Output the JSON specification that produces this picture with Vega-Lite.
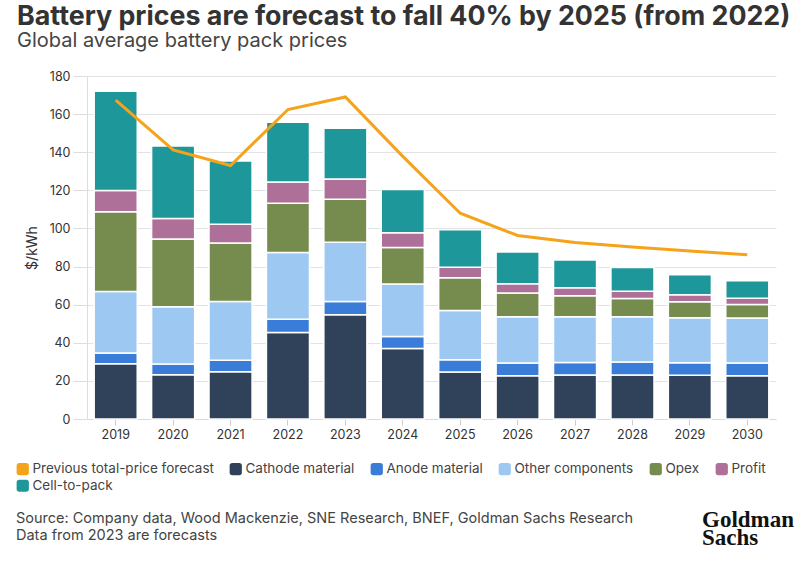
{
  "$schema": "https://vega.github.io/schema/vega-lite/v6.json",
  "background": "white",
  "padding": {"left": 16, "top": 4, "right": 2, "bottom": 2},
  "spacing": 67,
  "config": {"view": {"stroke": null}, "font": "Inter"},
  "title": {
    "text": "Battery prices are forecast to fall 40% by 2025 (from 2022)",
    "subtitle": "Global average battery pack prices",
    "anchor": "start",
    "frame": "bounds",
    "dx": 1,
    "font": "Inter",
    "fontSize": 26.8,
    "fontWeight": "bold",
    "color": "#333333",
    "subtitleFont": "Inter",
    "subtitleFontSize": 20,
    "subtitleFontWeight": "normal",
    "subtitleColor": "#444444",
    "subtitlePadding": 0,
    "offset": 19
  },
  "datasets": {
    "comp": [
      {"year": "2019", "Cathode material": 29.0, "Anode material": 5.6, "Other components": 32.3, "Opex": 41.8, "Profit": 11.2, "Cell-to-pack": 52.1},
      {"year": "2020", "Cathode material": 23.2, "Anode material": 5.6, "Other components": 30.1, "Opex": 35.6, "Profit": 10.7, "Cell-to-pack": 38.1},
      {"year": "2021", "Cathode material": 24.8, "Anode material": 6.0, "Other components": 30.9, "Opex": 30.7, "Profit": 9.8, "Cell-to-pack": 33.2},
      {"year": "2022", "Cathode material": 45.4, "Anode material": 7.0, "Other components": 35.0, "Opex": 25.8, "Profit": 11.2, "Cell-to-pack": 31.3},
      {"year": "2023", "Cathode material": 54.7, "Anode material": 7.0, "Other components": 31.1, "Opex": 22.5, "Profit": 10.7, "Cell-to-pack": 26.6},
      {"year": "2024", "Cathode material": 37.0, "Anode material": 6.3, "Other components": 27.5, "Opex": 19.2, "Profit": 7.7, "Cell-to-pack": 22.7},
      {"year": "2025", "Cathode material": 24.6, "Anode material": 6.5, "Other components": 25.9, "Opex": 17.1, "Profit": 5.6, "Cell-to-pack": 19.6},
      {"year": "2026", "Cathode material": 22.7, "Anode material": 6.7, "Other components": 24.3, "Opex": 12.4, "Profit": 4.9, "Cell-to-pack": 16.7},
      {"year": "2027", "Cathode material": 23.1, "Anode material": 6.6, "Other components": 24.0, "Opex": 11.0, "Profit": 4.2, "Cell-to-pack": 14.6},
      {"year": "2028", "Cathode material": 23.1, "Anode material": 6.8, "Other components": 23.8, "Opex": 9.6, "Profit": 3.8, "Cell-to-pack": 12.4},
      {"year": "2029", "Cathode material": 22.9, "Anode material": 6.6, "Other components": 23.6, "Opex": 8.4, "Profit": 3.7, "Cell-to-pack": 10.5},
      {"year": "2030", "Cathode material": 22.7, "Anode material": 6.7, "Other components": 23.6, "Opex": 7.1, "Profit": 3.3, "Cell-to-pack": 9.1}
    ],
    "prev": [
      {"year": "2019", "value": 167.4},
      {"year": "2020", "value": 141.2},
      {"year": "2021", "value": 133.0},
      {"year": "2022", "value": 162.4},
      {"year": "2023", "value": 169.0},
      {"year": "2024", "value": 137.8},
      {"year": "2025", "value": 108.0},
      {"year": "2026", "value": 96.3},
      {"year": "2027", "value": 92.6},
      {"year": "2028", "value": 90.2},
      {"year": "2029", "value": 88.1},
      {"year": "2030", "value": 86.2}
    ]
  },
  "vconcat": [
    {
      "width": 689,
      "height": 343,
      "encoding": {
        "x": {
          "field": "year",
          "type": "ordinal",
          "title": null,
          "scale": {"paddingInner": 0.25, "paddingOuter": 0.125},
          "axis": {
            "labelAngle": 0,
            "labelFont": "Inter",
            "labelFontSize": 12.5,
            "labelColor": "#333333",
            "labelPadding": 3,
            "tickSize": 6,
            "tickColor": "#cccccc",
            "domainColor": "#d9d9d9"
          }
        },
        "y": {
          "field": "value",
          "type": "quantitative",
          "scale": {"domain": [0, 180]},
          "axis": {
            "title": "$/kWh",
            "titleFont": "Inter",
            "titleFontSize": 14,
            "titleFontWeight": "normal",
            "titleColor": "#333333",
            "titlePadding": 9,
            "values": [0, 20, 40, 60, 80, 100, 120, 140, 160, 180],
            "labelFont": "Inter",
            "labelFontSize": 12.5,
            "labelColor": "#333333",
            "labelPadding": 3,
            "tickSize": 14,
            "tickColor": "#dddddd",
            "gridColor": "#e3e3e3",
            "domainColor": "#dddddd"
          }
        }
      },
      "layer": [
        {
          "data": {"name": "comp"},
          "transform": [
            {"fold": ["Cathode material", "Anode material", "Other components", "Opex", "Profit", "Cell-to-pack"], "as": ["component", "value"]},
            {"window": [{"op": "row_number", "as": "stackrank"}], "groupby": ["year"]}
          ],
          "mark": {"type": "bar", "stroke": "white", "strokeWidth": 1.5},
          "encoding": {
            "y": {"field": "value", "type": "quantitative", "stack": "zero"},
            "order": {"field": "stackrank", "type": "quantitative", "sort": "ascending"},
            "color": {
              "field": "component",
              "type": "nominal",
              "scale": {
                "domain": ["Previous total-price forecast", "Cathode material", "Anode material", "Other components", "Opex", "Profit", "Cell-to-pack"],
                "range": ["#f5a31a", "#30425a", "#3a7dd8", "#9dc8f1", "#768c4e", "#ae6f98", "#1d9799"]
              },
              "legend": {
                "title": null,
                "orient": "none",
                "legendX": -71,
                "legendY": 386,
                "direction": "horizontal",
                "columns": 6,
                "columnPadding": 15,
                "rowPadding": 2,
                "symbolType": "M-1,-0.55Q-1,-1,-0.55,-1L0.55,-1Q1,-1,1,-0.55L1,0.55Q1,1,0.55,1L-0.55,1Q-1,1,-1,0.55Z",
                "symbolSize": 150,
                "symbolStrokeWidth": 0,
                "labelFont": "Inter",
                "labelFontSize": 13.5,
                "labelColor": "#444444",
                "labelOffset": 3,
                "labelLimit": 300
              }
            }
          }
        },
        {
          "data": {"name": "prev"},
          "mark": {"type": "line", "color": "#f5a31a", "strokeWidth": 3}
        }
      ]
    },
    {
      "spacing": 80,
      "bounds": "flush",
      "hconcat": [
        {
          "width": 535,
          "height": 1,
          "data": {"values": [{}]},
          "mark": {"type": "text"},
          "encoding": {"text": {"value": ""}},
          "title": {
            "text": ["Source: Company data, Wood Mackenzie, SNE Research, BNEF, Goldman Sachs Research", "Data from 2023 are forecasts"],
            "anchor": "start",
            "frame": "group",
            "dx": -71,
            "font": "Inter",
            "fontSize": 14.5,
            "fontWeight": "normal",
            "color": "#444444",
            "lineHeight": 17,
            "offset": 0
          }
        },
        {
          "width": 92,
          "height": 1,
          "data": {"values": [{}]},
          "mark": {"type": "text"},
          "encoding": {"text": {"value": ""}},
          "title": {
            "text": ["Goldman", "Sachs"],
            "anchor": "start",
            "frame": "group",
            "dy": 6,
            "font": "Liberation Serif",
            "fontSize": 23,
            "fontWeight": "bold",
            "color": "#111111",
            "lineHeight": 18,
            "offset": 0
          }
        }
      ]
    }
  ]
}
